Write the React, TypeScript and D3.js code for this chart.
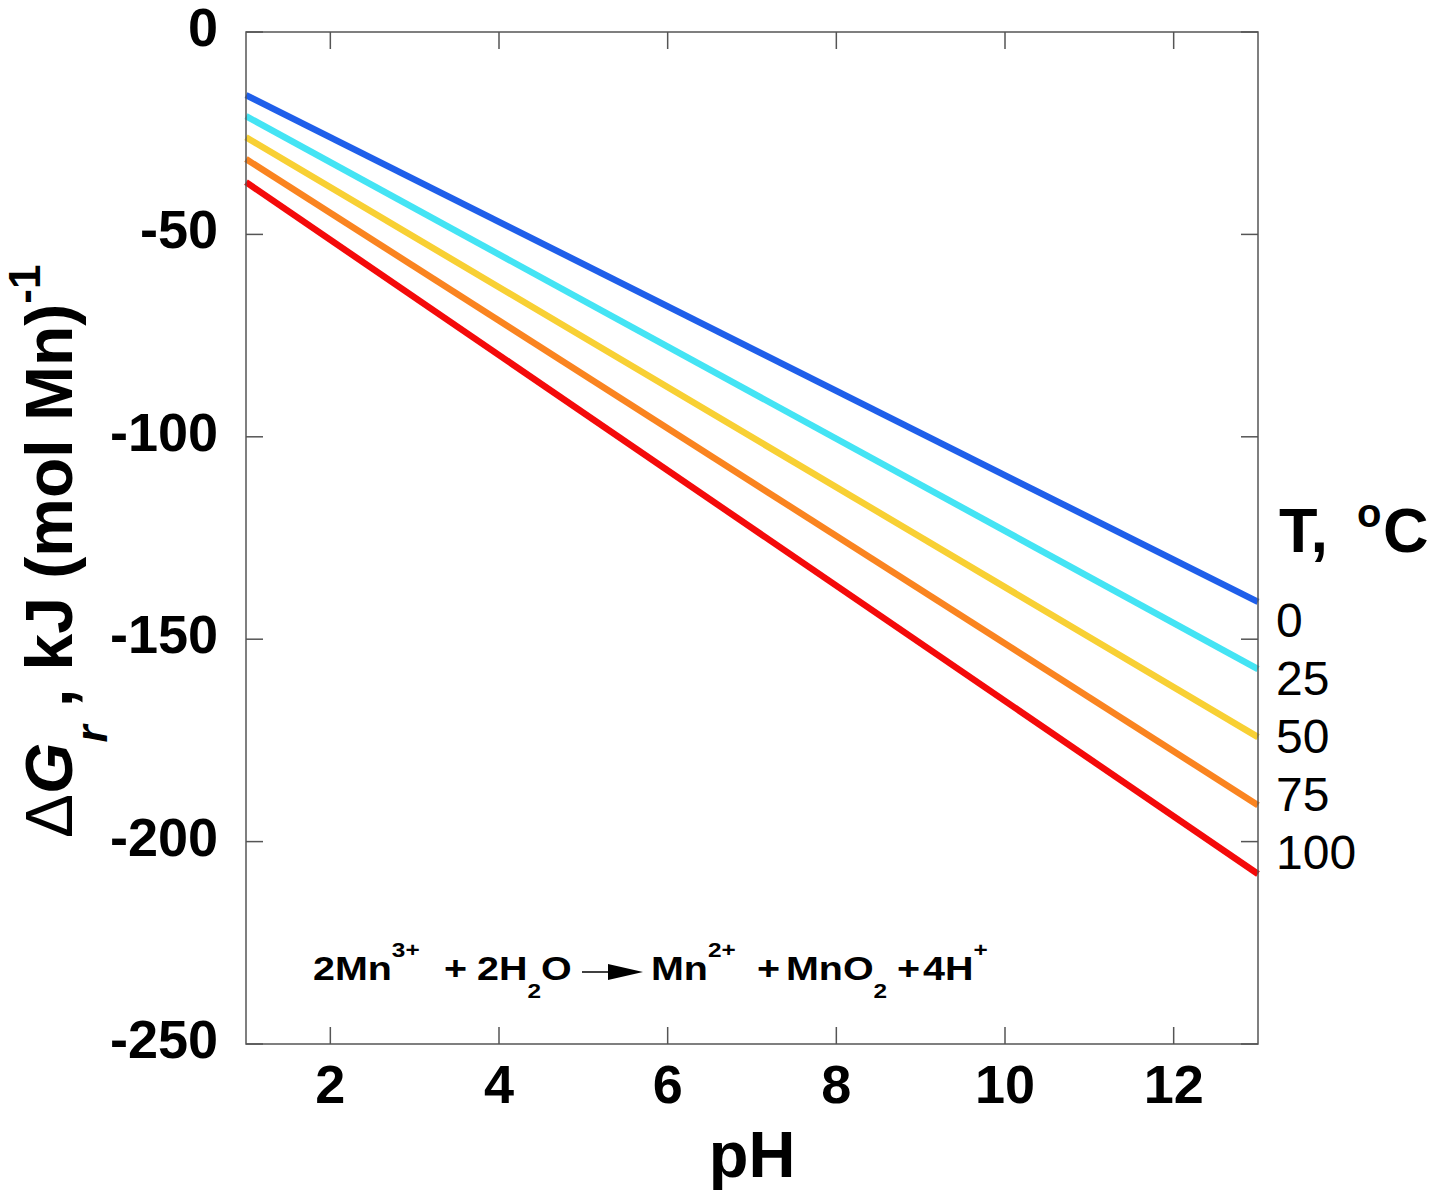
import React from "react";
import * as d3 from "d3";

const pHRange = [1, 13];
const temps = ["0", "25", "50", "75", "100"];
const colors = ["#1f5fea", "#44e4f4", "#f8d034", "#fa8420", "#f40a0a"];
const dG_0C = [-15.6, -140.8];
const dG_25C = [-20.8, -157.4];
const dG_50C = [-26.0, -174.2];
const dG_75C = [-31.4, -191.0];
const dG_100C = [-37.1, -208.0];
const seriesValues = [dG_0C, dG_25C, dG_50C, dG_75C, dG_100C];
const xTicks = [2, 4, 6, 8, 10, 12];
const yTicks = [0, -50, -100, -150, -200, -250];

const W = 1433;
const H = 1194;
const L = 246, R = 1258, T = 32, B = 1044;
const FONT = "'Liberation Sans', Arial, Helvetica, sans-serif";
const SX = 1.16;
const sx = (v: number) => v / SX;

export default function App() {
  const x = d3.scaleLinear().domain([1, 13]).range([L, R]);
  const y = d3.scaleLinear().domain([-250, 0]).range([B, T]);
  const line = d3
    .line<[number, number]>()
    .x((d) => x(d[0]))
    .y((d) => y(d[1]));
  const tickLen = 17;
  const frame = "#555";
  const base = 980;
  const supDy = -23;
  const subDy = 18;
  const fs = 34;
  const fss = 21;

  return (
    <svg
      width={W}
      height={H}
      style={{ position: "absolute", left: 0, top: 0, background: "#fff" }}
      fontFamily={FONT}
    >
      <rect x={0} y={0} width={W} height={H} fill="#fff" />
      {seriesValues.map((vals, i) => (
        <path
          key={i}
          d={line(pHRange.map((p, j) => [p, vals[j]] as [number, number])) || ""}
          fill="none"
          stroke={colors[i]}
          strokeWidth={6.5}
          strokeLinecap="butt"
        />
      ))}
      <rect x={L} y={T} width={R - L} height={B - T} fill="none" stroke={frame} strokeWidth={1.5} />
      {xTicks.map((t) => (
        <g key={"x" + t}>
          <line x1={x(t)} x2={x(t)} y1={B} y2={B - tickLen} stroke={frame} strokeWidth={1.5} />
          <line x1={x(t)} x2={x(t)} y1={T} y2={T + tickLen} stroke={frame} strokeWidth={1.5} />
          <text x={x(t)} y={1103} textAnchor="middle" fontWeight="bold" fontSize={54}>
            {t}
          </text>
        </g>
      ))}
      {yTicks.map((t) => (
        <g key={"y" + t}>
          <line x1={L} x2={L + tickLen} y1={y(t)} y2={y(t)} stroke={frame} strokeWidth={1.5} />
          <line x1={R} x2={R - tickLen} y1={y(t)} y2={y(t)} stroke={frame} strokeWidth={1.5} />
          <text x={218} y={y(t) + 14} textAnchor="end" fontWeight="bold" fontSize={54}>
            {t}
          </text>
        </g>
      ))}
      <text x={(L + R) / 2} y={1177} textAnchor="middle" fontWeight="bold" fontSize={65}>
        pH
      </text>
      <text transform="translate(72,838) rotate(-90)" fontSize={66} xmlSpace="preserve">
        <tspan fontWeight="normal">Δ</tspan>
        <tspan fontWeight="bold" fontStyle="italic">G</tspan>
        <tspan fontWeight="bold" fontStyle="italic" fontSize={44} dy={35}>r</tspan>
        <tspan fontWeight="bold" dy={-35}> , kJ (mol Mn)</tspan>
        <tspan fontWeight="bold" fontSize={44} dy={-32}>-1</tspan>
      </text>
      <g fontWeight="bold">
        <text x={1279} y={552} fontSize={63}>T,</text>
        <text x={1357} y={527} fontSize={40}>o</text>
        <text x={1383} y={552} fontSize={63}>C</text>
      </g>
      {temps.map((t, i) => (
        <text key={t} x={1276} y={637 + i * 58} fontSize={48}>
          {t}
        </text>
      ))}
      <g transform={`scale(${SX},1)`} fontWeight="bold" fontSize={fs}>
        <text x={sx(313)} y={base}>
          <tspan>2Mn</tspan>
          <tspan fontSize={fss} dy={supDy}>3+</tspan>
        </text>
        <text x={sx(444)} y={base}>
          <tspan>+</tspan>
          <tspan x={sx(477)}>2H</tspan>
          <tspan fontSize={fss} dy={subDy}>2</tspan>
          <tspan dy={-subDy}>O</tspan>
        </text>
        <text x={sx(651)} y={base}>
          <tspan>Mn</tspan>
          <tspan fontSize={fss} dy={supDy}>2+</tspan>
        </text>
        <text x={sx(757)} y={base}>
          <tspan>+</tspan>
          <tspan x={sx(786)}>MnO</tspan>
          <tspan fontSize={fss} dy={subDy}>2</tspan>
        </text>
        <text x={sx(897)} y={base}>
          <tspan>+</tspan>
          <tspan x={sx(923)}>4H</tspan>
          <tspan fontSize={fss} dy={supDy}>+</tspan>
        </text>
      </g>
      <line x1={582} x2={612} y1={972} y2={972} stroke="#000" strokeWidth={1.5} />
      <path d="M608,964 L643,972 L608,980 Z" fill="#000" />
    </svg>
  );
}
